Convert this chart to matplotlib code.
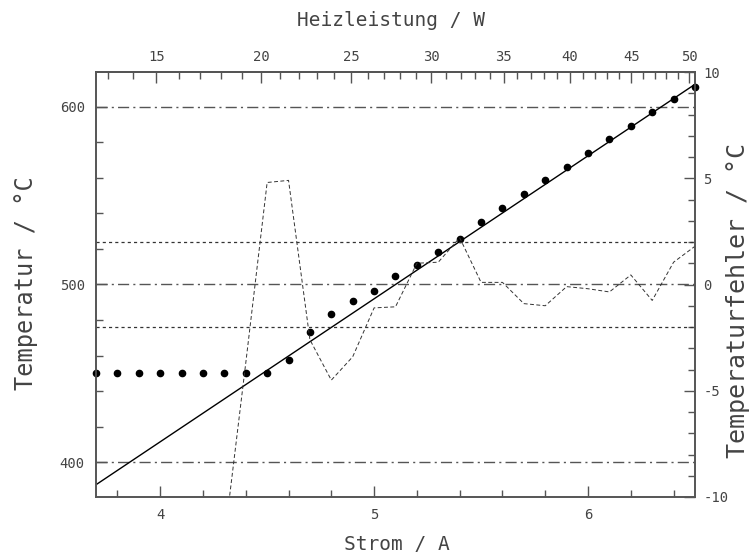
import numpy as np
import matplotlib
matplotlib.use('Agg')
import matplotlib.pyplot as plt

plt.rcParams['font.family'] = 'DejaVu Sans Mono'
plt.rcParams['axes.unicode_minus'] = False

# measured temperature vs. heater current
current = [3.7, 3.8, 3.9, 4.0, 4.1, 4.2, 4.3, 4.4, 4.5, 4.6,
           4.7, 4.8, 4.9, 5.0, 5.1, 5.2, 5.3, 5.4, 5.5, 5.6,
           5.7, 5.8, 5.9, 6.0, 6.1, 6.2, 6.3, 6.4, 6.5]
temp = [450, 450, 450, 450, 450, 450, 450, 450, 450, 457.5,
        473.5, 483.5, 490.5, 496.5, 504.5, 511, 518.5, 525.5, 535, 543,
        551, 558.5, 566, 574, 581.5, 589, 597, 604.5, 611]

# linear fit line (end points)
fit_current = [3.7, 6.5]
fit_temp = [387.5, 612.5]

# temperature error (right axis)
err_current = [4.3, 4.4, 4.5, 4.6, 4.7, 4.8, 4.9, 5.0, 5.1, 5.2,
               5.3, 5.4, 5.5, 5.6, 5.7, 5.8, 5.9, 6.0, 6.1, 6.2,
               6.3, 6.4, 6.5]
err = [-12.0, -3.7, 4.8, 4.9, -2.6, -4.5, -3.4, -1.1, -1.05, 1.0,
       1.05, 2.2, 0.1, 0.1, -0.9, -1.0, -0.1, -0.2, -0.35, 0.45,
       -0.75, 1.05, 1.8]

# top axis: heating power ticks and the current where they sit
power_ticks = [15, 20, 25, 30, 35, 40, 45, 50]
power_tick_current = [3.99, 4.475, 4.885, 5.25, 5.60, 5.91, 6.22, 6.48]

grid_temp = [400, 500, 600]
tol_err = [-2, 2]

gray = '#555555'
txt = '#444444'

fig = plt.figure(figsize=(7.55, 5.59), dpi=100)
ax = fig.add_axes([96 / 755, 1 - 497 / 559, 599 / 755, 425 / 559])
axr = ax.twinx()

ax.set_xlim(3.7, 6.5)
ax.set_ylim(380.6, 619.4)
axr.set_ylim(-10, 10)

for t in grid_temp:
    ax.axhline(t, color=gray, lw=1.0, ls=(0, (8, 3, 1.5, 3)))
for e in tol_err:
    axr.axhline(e, color='#333333', lw=0.9, ls=(0, (2.5, 2.5)))

ax.plot(fit_current, fit_temp, color='black', lw=1.0)
ax.plot(current, temp, 'o', color='black', ms=4.5, clip_on=False, zorder=5)
axr.plot(err_current, err, color='#333333', lw=0.7, ls=(0, (4, 2.5)))

# power law P = c * I^n from the tick readings, for the top scale
n, c = np.polyfit(np.log(power_tick_current), np.log(power_ticks), 1)


def to_power(i):
    i = np.clip(np.asarray(i, dtype=float), 1e-3, None)
    return np.exp(c) * i ** n


def to_current(p):
    p = np.clip(np.asarray(p, dtype=float), 1e-3, None)
    return (p / np.exp(c)) ** (1.0 / n)


axt = ax.secondary_xaxis('top', functions=(to_power, to_current))
axt.set_xticks(power_ticks)
axt.set_xticks(range(13, 51), minor=True)

ax.set_xticks([4, 5, 6])
ax.set_xticks(np.arange(3.8, 6.5, 0.2), minor=True)
ax.set_yticks(grid_temp)
ax.set_yticks(range(400, 620, 20), minor=True)
axr.set_yticks([-10, -5, 0, 5, 10])
axr.set_yticks(range(-10, 11), minor=True)

for a in (ax, axr, axt):
    a.tick_params(which='both', direction='in', colors=gray,
                  labelcolor=txt, labelsize=10, width=1.0)
    a.tick_params(which='major', length=8)
    a.tick_params(which='minor', length=5)
ax.tick_params(right=False, top=False, pad=8)
axr.tick_params(left=False, pad=6)
axt.tick_params(pad=6)

for a in (ax, axr):
    for s in a.spines.values():
        s.set_color(gray)
        s.set_linewidth(1.2)
axt.spines['top'].set_color(gray)
axt.spines['top'].set_linewidth(1.2)

fig.text(397 / 755, 1 - 545 / 559, 'Strom / A', fontsize=14, color=txt,
         ha='center', va='center')
fig.text(391 / 755, 1 - 20 / 559, 'Heizleistung / W', fontsize=14,
         color=txt, ha='center', va='center')
fig.text(26 / 755, 1 - 283 / 559, 'Temperatur / °C', fontsize=17,
         color=txt, ha='center', va='center', rotation=90)
fig.text(738 / 755, 1 - 300 / 559, 'Temperaturfehler / °C', fontsize=18,
         color=txt, ha='center', va='center', rotation=90)

fig.savefig('out.png', dpi=100)
